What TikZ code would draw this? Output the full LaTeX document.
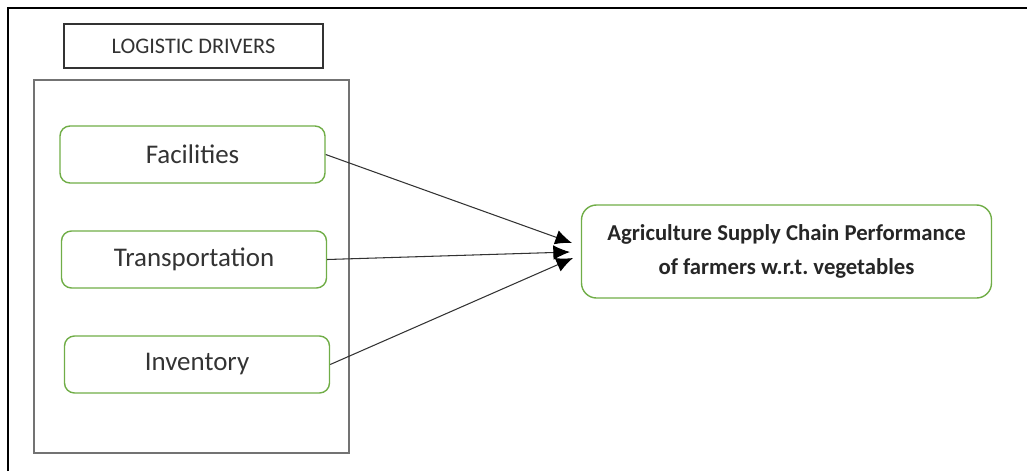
\documentclass[tikz,border=0pt]{standalone}
\usepackage{fontspec}
\setmainfont{Carlito}
\usetikzlibrary{arrows.meta}
\definecolor{boxgreen}{RGB}{112,173,71}
\definecolor{txtgray}{RGB}{51,51,51}
\begin{document}
\begin{tikzpicture}[x=0.03cm,y=-0.03cm,
    driver/.style={draw=boxgreen,line width=1.2pt,rounded corners=0.3cm,
      minimum width=7.95cm,minimum height=1.71cm,text=txtgray,
      font=\fontsize{23}{27}\selectfont},
    link/.style={draw=black!80,line width=0.9pt,
      -{Latex[black,length=0.5cm,width=0.44cm]}}]
  \useasboundingbox (0,0) rectangle (1027,471);
  %\draw[very thin,red] (0,0) rectangle (1027,471);

  % frame (only top and left edges are visible)
  \draw[line width=1.6pt] (8,471) -- (8,8) -- (1027,8);

  % heading and container
  \node[draw=black!80,line width=1.6pt,minimum width=7.77cm,minimum height=1.32cm,
    text=txtgray,font=\fontsize{19}{22}\selectfont] (heading) at (193.5,46) {LOGISTIC DRIVERS};
  \draw[black!55,line width=1.1pt] (34,80) rectangle (349,453);

  % drivers
  \node[driver] (facilities) at (192.5,154.5) {Facilities};
  \node[driver] (transport) at (194,259.5) {Transportation};
  \node[driver] (inventory) at (197,364.5) {Inventory};

  % performance
  \node[draw=boxgreen,line width=1.2pt,rounded corners=0.45cm,minimum width=12.3cm,
    minimum height=2.79cm,align=center,text=black!85,
    font=\bfseries\fontsize{19.4}{29}\selectfont] (perf) at (786.5,251.5)
    {Agriculture Supply Chain Performance\\of farmers w.r.t.\ vegetables};

  \coordinate (tipA) at (572,243);
  \coordinate (tipB) at (570,252);
  \coordinate (tipC) at (573,258);
  \draw[link] (facilities.east) -- (tipA);
  \draw[link] (transport.east) -- (tipB);
  \draw[link] (inventory.east) -- (tipC);
\end{tikzpicture}
\end{document}
